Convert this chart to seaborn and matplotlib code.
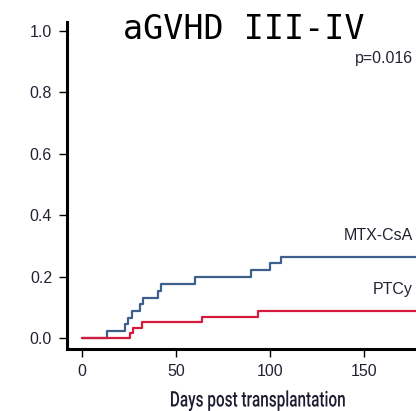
import numpy as np
import pandas as pd
import matplotlib
matplotlib.use("Agg")
import matplotlib.pyplot as plt
import seaborn as sns
from matplotlib.patheffects import AbstractPathEffect
from matplotlib.transforms import Affine2D

# Data
mtx_days = [0, 13.6, 23.0, 24.4, 26.5, 30.9, 32.7, 40.3, 41.9, 60.1, 89.9, 100.0, 105.8, 230]
mtx_cif = [0, 0.023, 0.045, 0.066, 0.088, 0.110, 0.132, 0.155, 0.177, 0.199, 0.222, 0.244, 0.266, 0.266]
ptcy_days = [0, 25.6, 27.0, 32.2, 64.0, 93.7, 230]
ptcy_cif = [0, 0.017, 0.034, 0.054, 0.069, 0.089, 0.089]
groups = ["MTX-CsA", "PTCy"]
colors = {"MTX-CsA": "#3d5f8e", "PTCy": "#d61a3e"}
x_ticks = [0, 50, 100, 150]
y_ticks = [0.0, 0.2, 0.4, 0.6, 0.8, 1.0]

df = pd.concat([
    pd.DataFrame({"day": mtx_days, "cif": mtx_cif, "group": groups[0]}),
    pd.DataFrame({"day": ptcy_days, "cif": ptcy_cif, "group": groups[1]}),
], ignore_index=True)

sns.set_style("ticks")
plt.rcParams["font.family"] = ["Liberation Sans", "DejaVu Sans"]


class Condense(AbstractPathEffect):
    """Horizontally squeeze text glyphs around their centre (condensed look)."""
    def __init__(self, sx):
        super().__init__()
        self.sx = sx

    def draw_path(self, renderer, gc, tpath, affine, rgbFace=None):
        ext = tpath.get_extents()
        cx = (ext.x0 + ext.x1) / 2
        squeeze = Affine2D().translate(-cx, 0).scale(self.sx, 1).translate(cx, 0)
        renderer.draw_path(gc, tpath, squeeze + affine, rgbFace)


W, H = 416, 411
fig = plt.figure(figsize=(W / 100, H / 100), dpi=100)
left_px, right_px, top_px, bottom_px = 66.7, 500, 22.3, 348.7
ax = fig.add_axes([left_px / W, 1 - bottom_px / H, (right_px - left_px) / W, (bottom_px - top_px) / H])

sns.lineplot(data=df, x="day", y="cif", hue="group", palette=colors,
             drawstyle="steps-post", linewidth=1.6, legend=False, ax=ax,
             estimator=None, sort=False)

# mapping: day0 at 81.7 px, 1.884 px/day
ax.set_xlim((left_px - 81.7) / 1.884, (right_px - 81.7) / 1.884)
ax.set_ylim((338.3 - bottom_px) / 307.5, (338.3 - top_px) / 307.5)
ax.set_xticks(x_ticks)
ax.set_xticklabels([str(t) for t in x_ticks])
ax.set_yticks(y_ticks)
ax.set_yticklabels([f"{t:.1f}" for t in y_ticks])
ax.set_xlabel("")
ax.set_ylabel("")
for s in ["top", "right"]:
    ax.spines[s].set_visible(False)
for s in ["left", "bottom"]:
    ax.spines[s].set_linewidth(2.2)
    ax.spines[s].set_color("black")
ax.tick_params(axis="both", length=6, width=1.0, color="black", labelsize=11.5,
               labelcolor="#222233")
ax.tick_params(axis="y", pad=4.5)
ax.tick_params(axis="x", pad=5)

fig.text(244 / W, 1 - 39 / H, "aGVHD III-IV", family=["DejaVu Sans Mono"],
         fontsize=24, ha="center", va="baseline", color="black")
fig.text(413 / W, 1 - 63 / H, "p=0.016", fontsize=11.5, ha="right", va="baseline", color="#222233")
fig.text(413 / W, 1 - 240 / H, "MTX-CsA", fontsize=11.5, ha="right", va="baseline", color="#222233")
fig.text(413 / W, 1 - 294 / H, "PTCy", fontsize=11.5, ha="right", va="baseline", color="#222233")

xl = fig.text(257.5 / W, 1 - 406.5 / H, "Days post transplantation",
              family=["Roboto", "DejaVu Sans"], fontsize=15.5, fontweight="medium",
              ha="center", va="baseline", color="#1c1c30")
fig.canvas.draw()
w_px = xl.get_window_extent(fig.canvas.get_renderer()).width
xl.set_path_effects([Condense(175.5 / w_px)])

fig.savefig("out.png", dpi=100)
